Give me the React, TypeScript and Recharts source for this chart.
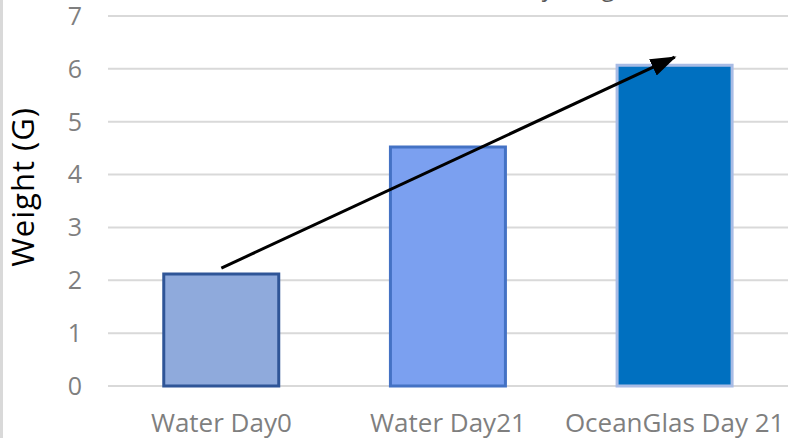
import React from "react"
import {
  BarChart,
  Bar,
  Cell,
  XAxis,
  YAxis,
  CartesianGrid,
  ReferenceLine,
  Customized,
} from "recharts"

const categories = ["Water Day0", "Water Day21", "OceanGlas Day 21"]
const weights = [2.12, 4.52, 6.07]
const yTicks = [0, 1, 2, 3, 4, 5, 6, 7]
const arrowFrom = { x: "Water Day0", y: 2.23 }
const arrowTo = { x: "OceanGlas Day 21", y: 6.22 }

const fills = ["#8FAADC", "#7BA0F0", "#0070C0"]
const strokes = ["#2F5597", "#4472C4", "#A9BCE5"]

const data = categories.map((name, i) => ({ name, value: weights[i] }))

const font = "'Open Sans', sans-serif"

function Arrow(props: any) {
  const { x1, y1, x2, y2 } = props
  return (
    <line
      x1={x1}
      y1={y1}
      x2={x2}
      y2={y2}
      stroke="#000"
      strokeWidth={3}
      markerEnd="url(#arrowHead)"
    />
  )
}

// title sits mostly above the visible area, like in the cropped original
function Extras() {
  return (
    <text
      x={497}
      y={-4}
      fill="#595959"
      fontSize={24}
      fontFamily={font}
      textAnchor="start"
    >
      Body Weight
    </text>
  )
}

export default function App() {
  return (
    <div style={{ position: "relative", width: 792, height: 438 }}>
      <style>{`body{margin:0}`}</style>
      <BarChart
        width={792}
        height={438}
        data={data}
        margin={{ top: 16, right: 4, left: 0, bottom: 0 }}
        barCategoryGap="24.6%"
        style={{ overflow: "visible" }}
      >
        <defs>
          <marker
            id="arrowHead"
            markerUnits="userSpaceOnUse"
            markerWidth={26}
            markerHeight={18}
            refX={24}
            refY={9}
            orient="auto"
          >
            <path d="M0,0 L26,9 L0,18 z" fill="#000" />
          </marker>
        </defs>
        <CartesianGrid vertical={false} stroke="#d9d9d9" strokeWidth={2} />
        <XAxis
          dataKey="name"
          axisLine={false}
          tickLine={false}
          tickMargin={22}
          height={52}
          interval={0}
          tick={{ fill: "#7f7f7f", fontSize: 26, fontFamily: font }}
        />
        <YAxis
          domain={[0, 7]}
          ticks={yTicks}
          width={108}
          axisLine={false}
          tickLine={false}
          tickMargin={20}
          tick={{ fill: "#7f7f7f", fontSize: 25, fontFamily: font }}
          label={{
            content: (p: any) => {
              const vb = p.viewBox
              const cy = vb.y + vb.height / 2 - 14
              return (
                <text
                  transform={`translate(34,${cy}) rotate(-90)`}
                  textAnchor="middle"
                  fill="#000"
                  fontSize={31}
                  letterSpacing={1}
                  fontFamily={font}
                >
                  Weight (G)
                </text>
              )
            },
          }}
        />
        <Bar dataKey="value" strokeWidth={3} isAnimationActive={false}>
          {data.map((d, i) => (
            <Cell key={d.name} fill={fills[i]} stroke={strokes[i]} />
          ))}
        </Bar>
        <ReferenceLine
          segment={[arrowFrom, arrowTo]}
          shape={Arrow}
          ifOverflow="visible"
        />
        <Customized component={Extras} />
      </BarChart>
      <div
        style={{
          position: "absolute",
          left: 0,
          top: 0,
          width: 3,
          height: 438,
          background: "#d9d9d9",
        }}
      />
    </div>
  )
}
